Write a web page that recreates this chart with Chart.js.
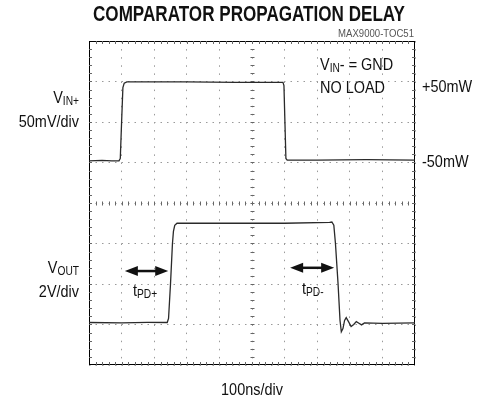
<!DOCTYPE html>
<html lang="en">
<head>
<meta charset="UTF-8" />
<title>Comparator Propagation Delay</title>
<script src="https://cdn.jsdelivr.net/npm/chart.js"></script>
<style>
  html, body { margin: 0; padding: 0; background: #fff; }
</style>
</head>
<body>
<canvas id="scope" width="480" height="402"></canvas>
<script>
  // time in ns (100ns/div), vertical in screen divisions (0 = centre line)
  const xTicks = [0, 100, 200, 300, 400, 500, 600, 700, 800, 900, 1000];
  const yTicks = [-4, -3, -2, -1, 0, 1, 2, 3, 4];

  // V_IN+ trace (50mV/div)
  const vinTime = [0, 40, 70, 92, 96, 100, 104, 108, 116, 300, 450, 595, 598, 601, 604, 608, 700, 850, 1000];
  const vinDiv  = [1.04, 1.05, 1.04, 1.04, 1.1, 2.0, 2.85, 2.96, 2.99, 2.99, 2.98, 2.98, 2.9, 2.0, 1.1, 1.06, 1.06, 1.07, 1.06];

  // V_OUT trace (2V/div)
  const voutTime = [0, 100, 180, 240, 244, 250, 256, 259, 263, 270, 400, 600, 738, 745, 751, 756, 764, 770, 774, 779, 784, 789, 796, 804, 812, 820, 828, 836, 845, 900, 1000];
  const voutDiv  = [-2.95, -2.96, -2.95, -2.95, -2.85, -2.0, -1.0, -0.7, -0.55, -0.50, -0.50, -0.50, -0.48, -0.47, -0.55, -1.0, -2.0, -2.9, -3.18, -3.1, -2.9, -2.83, -2.93, -3.05, -3.0, -2.93, -2.97, -3.01, -2.96, -2.97, -2.96];

  // right-hand markers for the input levels
  const levelTicks = [2.86, 1.0];
  const levelLabels = ['+50mW', '-50mW'];

  // delay arrows: start ns, end ns, height in div
  const tpdPlus = [110, 243, -1.68];
  const tpdMinus = [617, 752, -1.6];

  const FONT = '"Liberation Sans", Arial, sans-serif';
  const SQUEEZE = 0.85; // the original lettering is condensed

  function toPts(xs, ys) {
    return xs.map((t, i) => ({ x: t, y: ys[i] }));
  }

  // draws condensed text made of [string, isSubscript] pieces
  function richText(ctx, parts, x, y, align, size) {
    const fonts = parts.map(p => (p[1] ? Math.round(size * 0.72) : size) + 'px ' + FONT);
    let total = 0;
    parts.forEach((p, i) => { ctx.font = fonts[i]; total += ctx.measureText(p[0]).width; });
    ctx.save();
    ctx.translate(x, y);
    ctx.scale(SQUEEZE, 1);
    let cx = align === 'right' ? -total : align === 'center' ? -total / 2 : 0;
    ctx.textAlign = 'left';
    ctx.textBaseline = 'middle';
    parts.forEach((p, i) => {
      ctx.font = fonts[i];
      ctx.fillText(p[0], cx, p[1] ? size * 0.22 : 0);
      cx += ctx.measureText(p[0]).width;
    });
    ctx.restore();
  }

  function arrow(ctx, x1, x2, y) {
    const head = 13, half = 5;
    ctx.beginPath();
    ctx.moveTo(x1 + head - 1, y);
    ctx.lineTo(x2 - head + 1, y);
    ctx.lineWidth = 2.5;
    ctx.stroke();
    ctx.beginPath();
    ctx.moveTo(x1, y); ctx.lineTo(x1 + head, y - half); ctx.lineTo(x1 + head, y + half); ctx.closePath();
    ctx.moveTo(x2, y); ctx.lineTo(x2 - head, y - half); ctx.lineTo(x2 - head, y + half); ctx.closePath();
    ctx.fill();
  }

  const scopeFrame = {
    id: 'scopeFrame',
    beforeDatasetsDraw(chart) {
      const { ctx, chartArea: a, scales: { x, y } } = chart;
      ctx.save();
      ctx.strokeStyle = '#000';
      ctx.lineWidth = 1;
      ctx.strokeRect(a.left + 0.5, a.top + 0.5, a.width - 1, a.height - 1);
      ctx.beginPath();
      const cy = Math.round(y.getPixelForValue(0)) + 0.5;
      const cx = Math.round(x.getPixelForValue(500)) + 0.5;
      for (let t = 20; t < 1000; t += 20) {
        const px = Math.round(x.getPixelForValue(t)) + 0.5;
        ctx.moveTo(px, a.top); ctx.lineTo(px, a.top + 3);
        ctx.moveTo(px, a.bottom); ctx.lineTo(px, a.bottom - 3);
        ctx.moveTo(px, cy - 2); ctx.lineTo(px, cy + 2);
      }
      for (let d = -3.8; d < 4; d += 0.2) {
        const py = Math.round(y.getPixelForValue(d)) + 0.5;
        ctx.moveTo(a.left, py); ctx.lineTo(a.left + 3, py);
        ctx.moveTo(a.right, py); ctx.lineTo(a.right - 3, py);
        ctx.moveTo(cx - 2, py); ctx.lineTo(cx + 2, py);
      }
      ctx.strokeStyle = '#666';
      ctx.stroke();
      ctx.restore();
    },
    afterDraw(chart) {
      const { ctx, chartArea: a, scales: { x, y } } = chart;
      ctx.save();
      ctx.fillStyle = '#111';
      ctx.strokeStyle = '#111';

      // title, squeezed to the condensed width of the original
      const title = 'COMPARATOR PROPAGATION DELAY';
      ctx.font = 'bold 22px ' + FONT;
      const tw = ctx.measureText(title).width;
      ctx.save();
      ctx.translate(249, 15);
      ctx.scale(312 / tw, 1);
      ctx.textAlign = 'center';
      ctx.textBaseline = 'middle';
      ctx.fillText(title, 0, 0);
      ctx.restore();

      ctx.fillStyle = '#555';
      ctx.font = '11px ' + FONT;
      ctx.save();
      ctx.translate(a.right - 1, 34);
      ctx.scale(0.87, 1);
      ctx.textAlign = 'right';
      ctx.textBaseline = 'middle';
      ctx.fillText('MAX9000-TOC51', 0, 0);
      ctx.restore();

      ctx.fillStyle = '#111';
      richText(ctx, [['V', 0], ['IN+', 1]], 79, 98, 'right', 17);
      richText(ctx, [['50mV/div', 0]], 79, 122, 'right', 17);
      richText(ctx, [['V', 0], ['OUT', 1]], 79, 268, 'right', 17);
      richText(ctx, [['2V/div', 0]], 79, 292, 'right', 17);
      richText(ctx, [['V', 0], ['IN', 1], ['- = GND', 0]], 320, 65, 'left', 17);
      richText(ctx, [['NO LOAD', 0]], 320, 88, 'left', 17);
      richText(ctx, [['t', 0], ['PD+', 1]], 133, 291, 'left', 17);
      richText(ctx, [['t', 0], ['PD-', 1]], 302, 289, 'left', 17);
      richText(ctx, [['100ns/div', 0]], x.getPixelForValue(500), 390, 'center', 17);

      // input level markers to the right of the screen
      levelTicks.forEach((v, i) => {
        richText(ctx, [[levelLabels[i], 0]], a.right + 7, y.getPixelForValue(v), 'left', 17);
      });

      arrow(ctx, x.getPixelForValue(tpdPlus[0]), x.getPixelForValue(tpdPlus[1]), y.getPixelForValue(tpdPlus[2]));
      arrow(ctx, x.getPixelForValue(tpdMinus[0]), x.getPixelForValue(tpdMinus[1]), y.getPixelForValue(tpdMinus[2]));
      ctx.restore();
    }
  };

  const traceStyle = {
    borderColor: '#2a2a2a',
    borderWidth: 1.3,
    pointRadius: 0,
    tension: 0,
    fill: false
  };

  new Chart(document.getElementById('scope'), {
    type: 'line',
    data: {
      datasets: [
        Object.assign({ label: 'VIN+', data: toPts(vinTime, vinDiv) }, traceStyle),
        Object.assign({ label: 'VOUT', data: toPts(voutTime, voutDiv) }, traceStyle)
      ]
    },
    options: {
      responsive: false,
      animation: false,
      events: [],
      layout: { padding: { left: 89, right: 65, top: 41, bottom: 37 } },
      plugins: { legend: { display: false }, tooltip: { enabled: false }, title: { display: false } },
      scales: {
        x: {
          type: 'linear', min: 0, max: 1000,
          afterBuildTicks: s => { s.ticks = xTicks.map(v => ({ value: v })); },
          afterFit: s => { s.height = 0; },
          ticks: { display: false },
          grid: { color: '#9a9a9a', lineWidth: 1, drawTicks: false },
          border: { display: false, dash: [1.5, 6.6] }
        },
        y: {
          type: 'linear', min: -4, max: 4,
          afterBuildTicks: s => { s.ticks = yTicks.map(v => ({ value: v })); },
          afterFit: s => { s.width = 0; },
          ticks: { display: false },
          grid: { color: '#9a9a9a', lineWidth: 1, drawTicks: false },
          border: { display: false, dash: [1.5, 5.0] }
        }
      }
    },
    plugins: [scopeFrame]
  });
</script>
</body>
</html>
